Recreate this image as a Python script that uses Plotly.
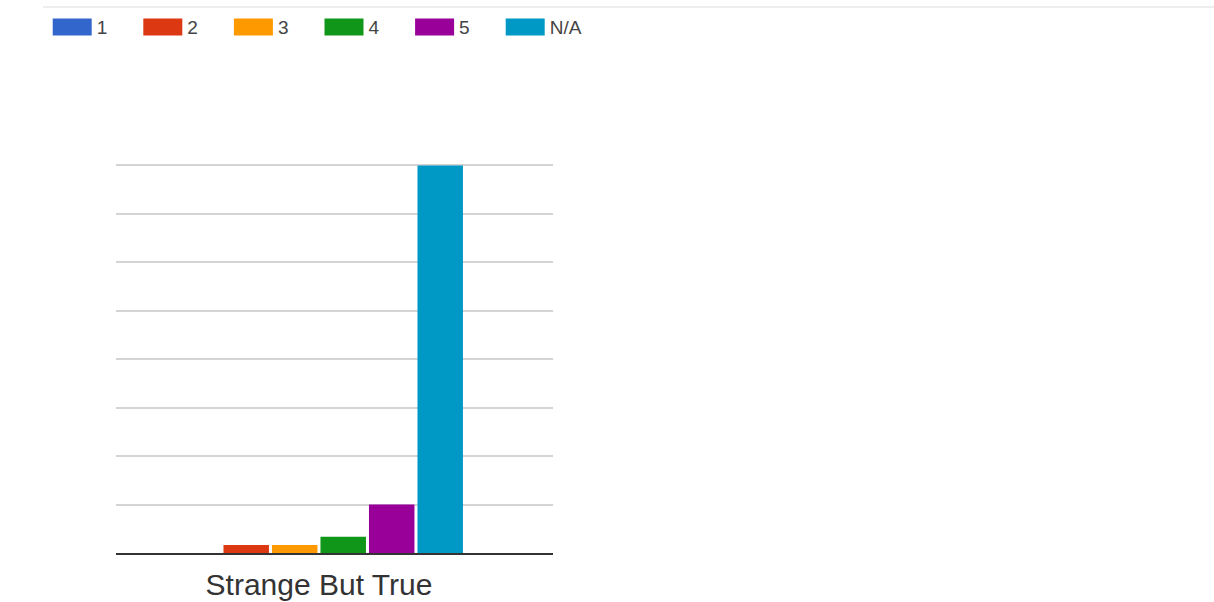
import plotly.graph_objects as go

categories = ["Strange But True"]
series_names = ["1", "2", "3", "4", "5", "N/A"]
series_values = [[0], [1], [1], [2], [6], [48]]
colors = ["#3366cc", "#dc3912", "#ff9900", "#109618", "#990099", "#0099c6"]
y_ticks = [0, 6, 12, 18, 24, 30, 36, 42, 48]

W, H = 1214, 602
PL, PR, PB = 116, 553, 553          # plot area left/right/bottom (px)
Y_MAX = 48.3
PT = PB - Y_MAX * (388 / 48)        # plot area top (px)
PH = PB - PT
PW = PR - PL

fig = go.Figure()
for name, vals, col in zip(series_names, series_values, colors):
    fig.add_trace(go.Bar(x=[0], y=vals, name=name, marker_color=col,
                         marker_line_width=0, showlegend=False))
    # legend swatch (wide rectangle like the original)
    fig.add_trace(go.Scatter(x=[None], y=[None], mode="lines", name=name,
                             line=dict(color=col, width=17), showlegend=True))

fig.update_layout(
    width=W, height=H,
    margin=dict(l=PL, r=W - PR, t=PT, b=H - PB, autoexpand=False),
    paper_bgcolor="white", plot_bgcolor="white",
    barmode="group", bargap=0.2, bargroupgap=0.062,
    font=dict(family="Liberation Sans, Arial, sans-serif", color="#222"),
    legend=dict(orientation="h",
                x=(47.7 - PL) / PW, xanchor="left",
                y=(PB - 7.5) / PH, yanchor="top",
                itemwidth=39, entrywidth=36.6, entrywidthmode="pixels",
                font=dict(size=19, color="#444"), itemclick=False,
                bgcolor="rgba(0,0,0,0)"),
    xaxis=dict(range=[-0.558, 0.6434], tickvals=[0], ticktext=categories,
               tickfont=dict(size=30, color="#333"), showgrid=False,
               showline=True, linecolor="#333", linewidth=2,
               ticklabelstandoff=4, automargin=False, fixedrange=True),
    yaxis=dict(range=[0, Y_MAX], tickvals=y_ticks, showticklabels=False,
               showgrid=True, gridcolor="#d4d4d4", gridwidth=2,
               zeroline=False, automargin=False, fixedrange=True),
    shapes=[dict(type="line", xref="paper", yref="paper",
                 x0=(43 - PL) / PW, x1=(W - PL) / PW,
                 y0=(PB - 6.5) / PH, y1=(PB - 6.5) / PH,
                 line=dict(color="#eeeeee", width=2))],
)

# Plotly caps legend line thickness; widen the swatches to the original's 17px bars
post_js = """
document.body.style.margin='0';
function fatSwatches(){
  document.querySelectorAll('.legend .legendlines path').forEach(function(p){
    p.style.strokeWidth='17px';
  });
}
fatSwatches();
setTimeout(fatSwatches, 50);
setTimeout(fatSwatches, 300);
"""

fig.write_html("out.html", config={"displayModeBar": False}, post_script=post_js)
